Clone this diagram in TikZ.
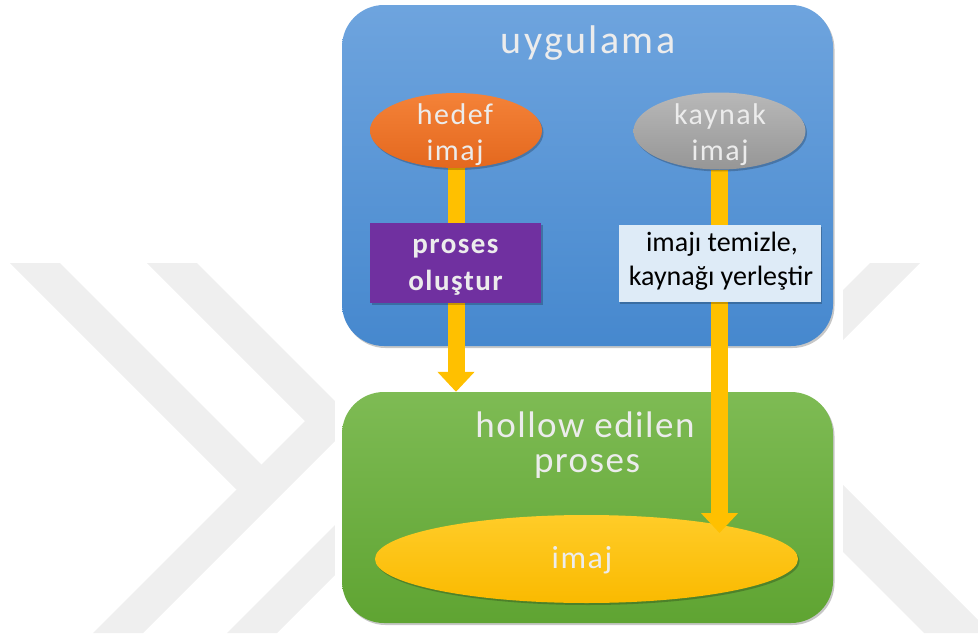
\documentclass[tikz,border=0pt]{standalone}
\usepackage{fontspec}
\setmainfont{Carlito}
\newfontfamily\titlefont[LetterSpace=6]{Carlito}
\newfontfamily\groupfont[LetterSpace=4]{Carlito}
\newfontfamily\labelfont[LetterSpace=5]{Carlito}
\newfontfamily\stepfont[LetterSpace=5]{Carlito}
\usetikzlibrary{shapes.geometric,arrows.meta,shadows}

\definecolor{appTop}{RGB}{110,164,222}
\definecolor{appBot}{RGB}{70,136,206}
\definecolor{procTop}{RGB}{126,187,84}
\definecolor{procBot}{RGB}{95,164,50}
\definecolor{destTop}{RGB}{244,130,56}
\definecolor{destBot}{RGB}{228,104,30}
\definecolor{srcTop}{RGB}{184,184,184}
\definecolor{srcBot}{RGB}{150,150,150}
\definecolor{stepPurple}{RGB}{112,48,160}
\definecolor{stepLight}{RGB}{222,235,247}
\definecolor{flowGold}{RGB}{255,192,0}
\definecolor{imgTop}{RGB}{255,204,40}
\definecolor{imgBot}{RGB}{250,186,0}
\definecolor{paleText}{RGB}{236,236,236}
\definecolor{wmGray}{RGB}{239,239,239}

\pgfdeclarelayer{back}
\pgfdeclarelayer{front}
\pgfsetlayers{back,main,front}

\begin{document}
\begin{tikzpicture}[x=1pt,y=-1pt,
  softshadow/.style={drop shadow={shadow xshift=1.5pt,shadow yshift=-2pt,opacity=0.22,fill=black}},
  panel/.style={rectangle, rounded corners=42pt, minimum width=491pt, inner sep=0pt, softshadow},
  blob/.style={ellipse, inner sep=0pt, softshadow},
  stepbox/.style={rectangle, inner sep=0pt, softshadow},
  pale/.style={text=paleText, inner sep=0pt, anchor=base},
  dark/.style={text=black, inner sep=0pt, anchor=base},
  flow/.style={draw=flowGold, line width=17pt, -{Triangle[width=36pt,length=20pt]}},
  wm/.style={fill=wmGray}
]
\useasboundingbox (0,0) rectangle (978,637);

\begin{pgfonlayer}{back}
  % faint background chevrons
  \fill[wm] (10,263) -- (60,263) -- (286.5,489.5) -- (236.5,489.5) -- cycle;
  \fill[wm] (147,263) -- (197,263) -- (355,421) -- (143,633) -- (93,633) -- (305,421) -- cycle;
  \fill[wm] (227,633) -- (277,633) -- (420,490) -- (370,490) -- cycle;
  \fill[wm] (870,263) -- (920,263) -- (820,363) -- (770,363) -- cycle;
  \fill[wm] (800,442) -- (991,633) -- (924,633) -- (800,509) -- cycle;
  \fill[white] (335,0) rectangle (843,637);

  % containers
  \node[panel, minimum height=341pt, top color=appTop, bottom color=appBot] (app) at (587.5,175.5) {};
  \node[panel, minimum height=231pt, top color=procTop, bottom color=procBot] (proc) at (587.5,507.5) {};
  \node[blob, minimum width=423pt, minimum height=88pt, top color=imgTop, bottom color=imgBot] (img) at (586.5,559) {};

  \node[pale, font=\titlefont\fontsize{40}{40}\selectfont] (appTitle) at (588,53.3) {uygulama};
  \node[pale, font=\groupfont\fontsize{37}{37}\selectfont] (procTitleA) at (585,437.3) {hollow edilen};
  \node[pale, font=\groupfont\fontsize{37}{37}\selectfont] (procTitleB) at (587,472.7) {proses};
  \node[pale, font=\labelfont\fontsize{32}{32}\selectfont] (imgText) at (582,568) {imaj};
\end{pgfonlayer}

\begin{pgfonlayer}{front}
  \node[blob, minimum width=172pt, minimum height=75pt, top color=destTop, bottom color=destBot] (dest) at (456,130.5) {};
  \node[pale, font=\labelfont\fontsize{30}{30}\selectfont] (destA) at (455,124.3) {hedef};
  \node[pale, font=\labelfont\fontsize{30}{30}\selectfont] (destB) at (455,160) {imaj};

  \node[blob, minimum width=172pt, minimum height=77pt, top color=srcTop, bottom color=srcBot] (src) at (719.5,131) {};
  \node[pale, font=\labelfont\fontsize{30}{30}\selectfont] (srcA) at (720,124.3) {kaynak};
  \node[pale, font=\labelfont\fontsize{30}{30}\selectfont] (srcB) at (720,160) {imaj};

  \node[stepbox, minimum width=171pt, minimum height=80pt, fill=stepPurple] (create) at (455.5,263) {};
  \node[pale, font=\stepfont\bfseries\fontsize{29}{29}\selectfont] (createA) at (455.5,253) {proses};
  \node[pale, font=\stepfont\bfseries\fontsize{29}{29}\selectfont] (createB) at (455.5,290) {oluştur};

  \node[stepbox, minimum width=202pt, minimum height=77pt, fill=stepLight] (clean) at (719.5,263.5) {};
  \node[dark, font=\fontsize{28}{28}\selectfont] (cleanA) at (722,251.7) {imajı temizle,};
  \node[dark, font=\fontsize{28}{28}\selectfont] (cleanB) at (721,285) {kaynağı yerleştir};
\end{pgfonlayer}

% flows
\coordinate (drop) at (720,533);
\draw[flow] (dest.south) -- (dest.south |- proc.north);
\draw[flow] (src.south) -- (src.south |- drop);
\end{tikzpicture}
\end{document}
